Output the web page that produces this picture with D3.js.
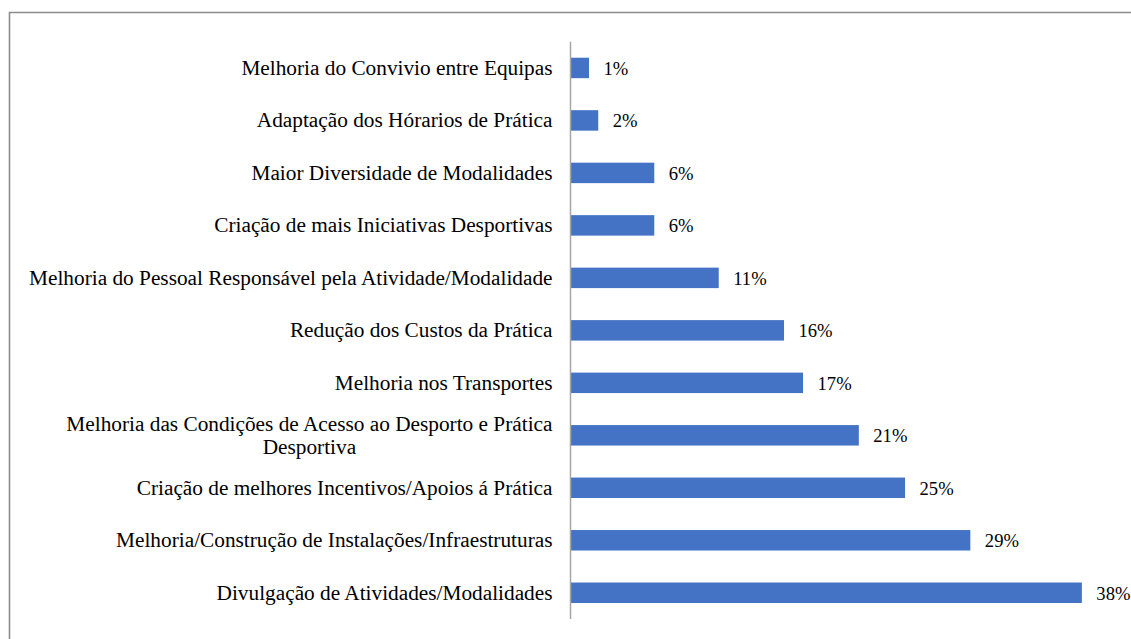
<!DOCTYPE html>
<html>
<head>
<meta charset="utf-8">
<script src="https://cdn.jsdelivr.net/npm/d3@7"></script>
<style>
  body { margin: 0; background: #fff; }
  text { font-family: "Liberation Serif", "Times New Roman", serif; fill: #000; }
</style>
</head>
<body>
<div id="chart"></div>
<script>
// categories, top to bottom (second line of a wrapped label after "|")
const categories = [
  "Melhoria do Convivio entre Equipas",
  "Adaptação dos Hórarios de Prática",
  "Maior Diversidade de Modalidades",
  "Criação de mais Iniciativas Desportivas",
  "Melhoria do Pessoal Responsável pela Atividade/Modalidade",
  "Redução dos Custos da Prática",
  "Melhoria nos Transportes",
  "Melhoria das Condições de Acesso ao Desporto e Prática|Desportiva",
  "Criação de melhores Incentivos/Apoios á Prática",
  "Melhoria/Construção de Instalações/Infraestruturas",
  "Divulgação de Atividades/Modalidades"
];
// share of answers (%)
const values = [1.36, 2.04, 6.16, 6.16, 10.9, 15.7, 17.1, 21.2, 24.6, 29.4, 37.6];

const width = 1131, height = 639;
const margin = { left: 570.5, top: 41.7, bottom: 20, right: 20 };
const catFont = "21.3px", valFont = "18.6px";

const svg = d3.select("#chart")
  .append("svg")
  .attr("width", width)
  .attr("height", height);

// frame of the chart area (cropped at right and bottom)
svg.append("path")
  .attr("d", "M9.5," + height + "V12.5H" + width)
  .attr("fill", "none")
  .attr("stroke", "#8c8c8c")
  .attr("stroke-width", 1.6);

const x = d3.scaleLinear()
  .domain([0, 1])
  .range([margin.left, margin.left + 13.6]);

const y = d3.scaleBand()
  .domain(categories)
  .range([margin.top, 619])
  .paddingInner(0.61)
  .paddingOuter(0.305);

const data = categories.map((c, i) => ({ cat: c, value: values[i] }));

// bars
svg.append("g")
  .selectAll("rect")
  .data(data)
  .enter()
  .append("rect")
  .attr("x", x(0))
  .attr("y", d => y(d.cat))
  .attr("width", d => x(d.value) - x(0))
  .attr("height", y.bandwidth())
  .attr("fill", "#4472c4");

// value axis line
svg.append("line")
  .attr("x1", x(0)).attr("x2", x(0))
  .attr("y1", margin.top).attr("y2", 619)
  .attr("stroke", "#a6a6a6")
  .attr("stroke-width", 1.5);

// value labels
const fmt = d3.format(".0f");
svg.append("g")
  .selectAll("text")
  .data(data)
  .enter()
  .append("text")
  .attr("x", d => x(d.value) + 14.5)
  .attr("y", d => y(d.cat) + y.bandwidth() / 2)
  .attr("dy", "0.38em")
  .style("font-size", valFont)
  .text(d => fmt(d.value) + "%");

// category labels
const labelX = x(0) - 18;
const labels = svg.append("g");
data.forEach(d => {
  const lines = d.cat.split("|");
  const cy = y(d.cat) + y.bandwidth() / 2;
  if (lines.length === 1) {
    labels.append("text")
      .attr("x", labelX)
      .attr("y", cy)
      .attr("dy", "0.33em")
      .attr("text-anchor", "end")
      .style("font-size", catFont)
      .text(lines[0]);
  } else {
    const first = labels.append("text")
      .attr("x", labelX)
      .attr("y", cy - 11.5)
      .attr("dy", "0.33em")
      .attr("text-anchor", "end")
      .style("font-size", catFont)
      .text(lines[0]);
    const w = first.node().getComputedTextLength();
    labels.append("text")
      .attr("x", labelX - w / 2)
      .attr("y", cy + 11.5)
      .attr("dy", "0.33em")
      .attr("text-anchor", "middle")
      .style("font-size", catFont)
      .text(lines[1]);
  }
});
</script>
</body>
</html>
